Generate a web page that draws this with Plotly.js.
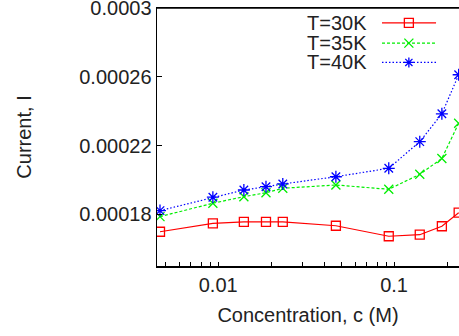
<!DOCTYPE html>
<html>
<head>
<meta charset="utf-8">
<script src="https://cdn.plot.ly/plotly-3.0.1.min.js"></script>
<style>html,body{margin:0;padding:0;background:#fff;}#chart{width:459px;height:336px;}</style>
</head>
<body>
<div id="chart"></div>
<script>
// Data
const concentration = [0.00467, 0.00933, 0.014, 0.0187, 0.0233, 0.0467, 0.0933, 0.14, 0.187, 0.233];
const current30K = [0.0001699, 0.0001748, 0.0001756, 0.0001756, 0.0001756, 0.0001734, 0.0001673, 0.0001682, 0.0001731, 0.0001810];
const current35K = [0.0001787, 0.0001865, 0.0001903, 0.0001926, 0.0001952, 0.0001971, 0.0001946, 0.0002033, 0.0002125, 0.0002330];
const current40K = [0.0001822, 0.0001900, 0.0001942, 0.0001961, 0.0001977, 0.0002019, 0.0002068, 0.0002223, 0.0002385, 0.0002612];
const seriesNames = ["T=30K", "T=35K", "T=40K"];
const yTickVals = [0.00018, 0.00022, 0.00026, 0.0003];
const yTickText = ["0.00018", "0.00022", "0.00026", "0.0003"];
const xTickVals = [0.005, 0.006, 0.007, 0.008, 0.009, 0.01, 0.02, 0.03, 0.04, 0.05, 0.06, 0.07, 0.08, 0.09, 0.1, 0.2];
const xTickText = ["", "", "", "", "", "0.01", "", "", "", "", "", "", "", "", "0.1", ""];

const colors = ["#ff0000", "#00ee00", "#0000ff"];
const dashes = ["solid", "3px,2px", "1.5px,2px"];
const symbols = ["square-open", "x-thin-open", "asterisk-open"];
const sizes = [9, 9, 10];
const ys = [current30K, current35K, current40K];

const traces = [];
for (let i = 0; i < 3; i++) {
  traces.push({
    x: concentration, y: ys[i], type: "scatter", mode: "lines+markers",
    name: seriesNames[i], showlegend: false,
    line: {color: colors[i], width: 1.2, dash: dashes[i]},
    marker: {symbol: symbols[i], size: sizes[i], color: colors[i], line: {color: colors[i], width: 1.3}}
  });
}

// gnuplot-style key: text, then a line sample with its marker
const keyRowY = [0.942, 0.864, 0.789];
const keyText = 0.702, keyL = 0.745, keyM = 0.834, keyR = 0.924;
const markerPaths = [
  "M-4.5,-4.5H4.5V4.5H-4.5Z",
  "M-4.5,-4.5L4.5,4.5M-4.5,4.5L4.5,-4.5",
  "M-5,0H5M0,-5V5M-3.6,-3.6L3.6,3.6M-3.6,3.6L3.6,-3.6"
];
const shapes = [
  {type: "line", xref: "paper", yref: "paper", x0: 0, x1: 1, y0: 1, y1: 1, layer: "above", line: {color: "#000", width: 1.5}}
];
const annotations = [];
const keyFont = {family: "Liberation Sans, Arial, sans-serif", size: 20, color: "#222"};
for (let i = 0; i < 3; i++) {
  shapes.push({type: "line", xref: "paper", yref: "paper", x0: keyL, x1: keyR, y0: keyRowY[i], y1: keyRowY[i], layer: "above",
    line: {color: colors[i], width: 1.2, dash: dashes[i]}});
  shapes.push({type: "path", xref: "paper", yref: "paper", xsizemode: "pixel", ysizemode: "pixel",
    xanchor: keyM, yanchor: keyRowY[i], path: markerPaths[i], layer: "above",
    fillcolor: "rgba(0,0,0,0)", line: {color: colors[i], width: 1.3}});
  annotations.push({xref: "paper", yref: "paper", x: keyText, y: keyRowY[i], xanchor: "right", yanchor: "middle",
    text: seriesNames[i], showarrow: false, font: keyFont});
}

const font = {family: "Liberation Sans, Arial, sans-serif", size: 20, color: "#222"};
const layout = {
  width: 459, height: 336,
  margin: {l: 157, r: 0, t: 8, b: 70},
  paper_bgcolor: "#fff", plot_bgcolor: "rgba(0,0,0,0)",
  font: font, showlegend: false,
  xaxis: {
    type: "log", range: [Math.log10(0.00449), Math.log10(0.234)],
    tickmode: "array", tickvals: xTickVals, ticktext: xTickText,
    ticks: "inside", ticklen: 4, tickwidth: 1, tickcolor: "#000",
    showline: true, linecolor: "#000", linewidth: 1.5, mirror: true, showgrid: false, zeroline: false,
    tickfont: font,
    title: {text: "Concentration, c (M)", font: font, standoff: 13}
  },
  yaxis: {
    range: [0.00015, 0.0003000001], ticklabeloverflow: "allow",
    tickmode: "array", tickvals: yTickVals, ticktext: yTickText,
    ticks: "inside", ticklen: 5, tickwidth: 1, tickcolor: "#000",
    showline: true, linecolor: "#000", linewidth: 1.5, showgrid: false, zeroline: false,
    tickfont: font,
    title: {text: "Current, I", font: font, standoff: 42}
  },
  shapes: shapes,
  annotations: annotations
};
Plotly.newPlot("chart", traces, layout, {displayModeBar: false, staticPlot: true});
</script>
</body>
</html>
